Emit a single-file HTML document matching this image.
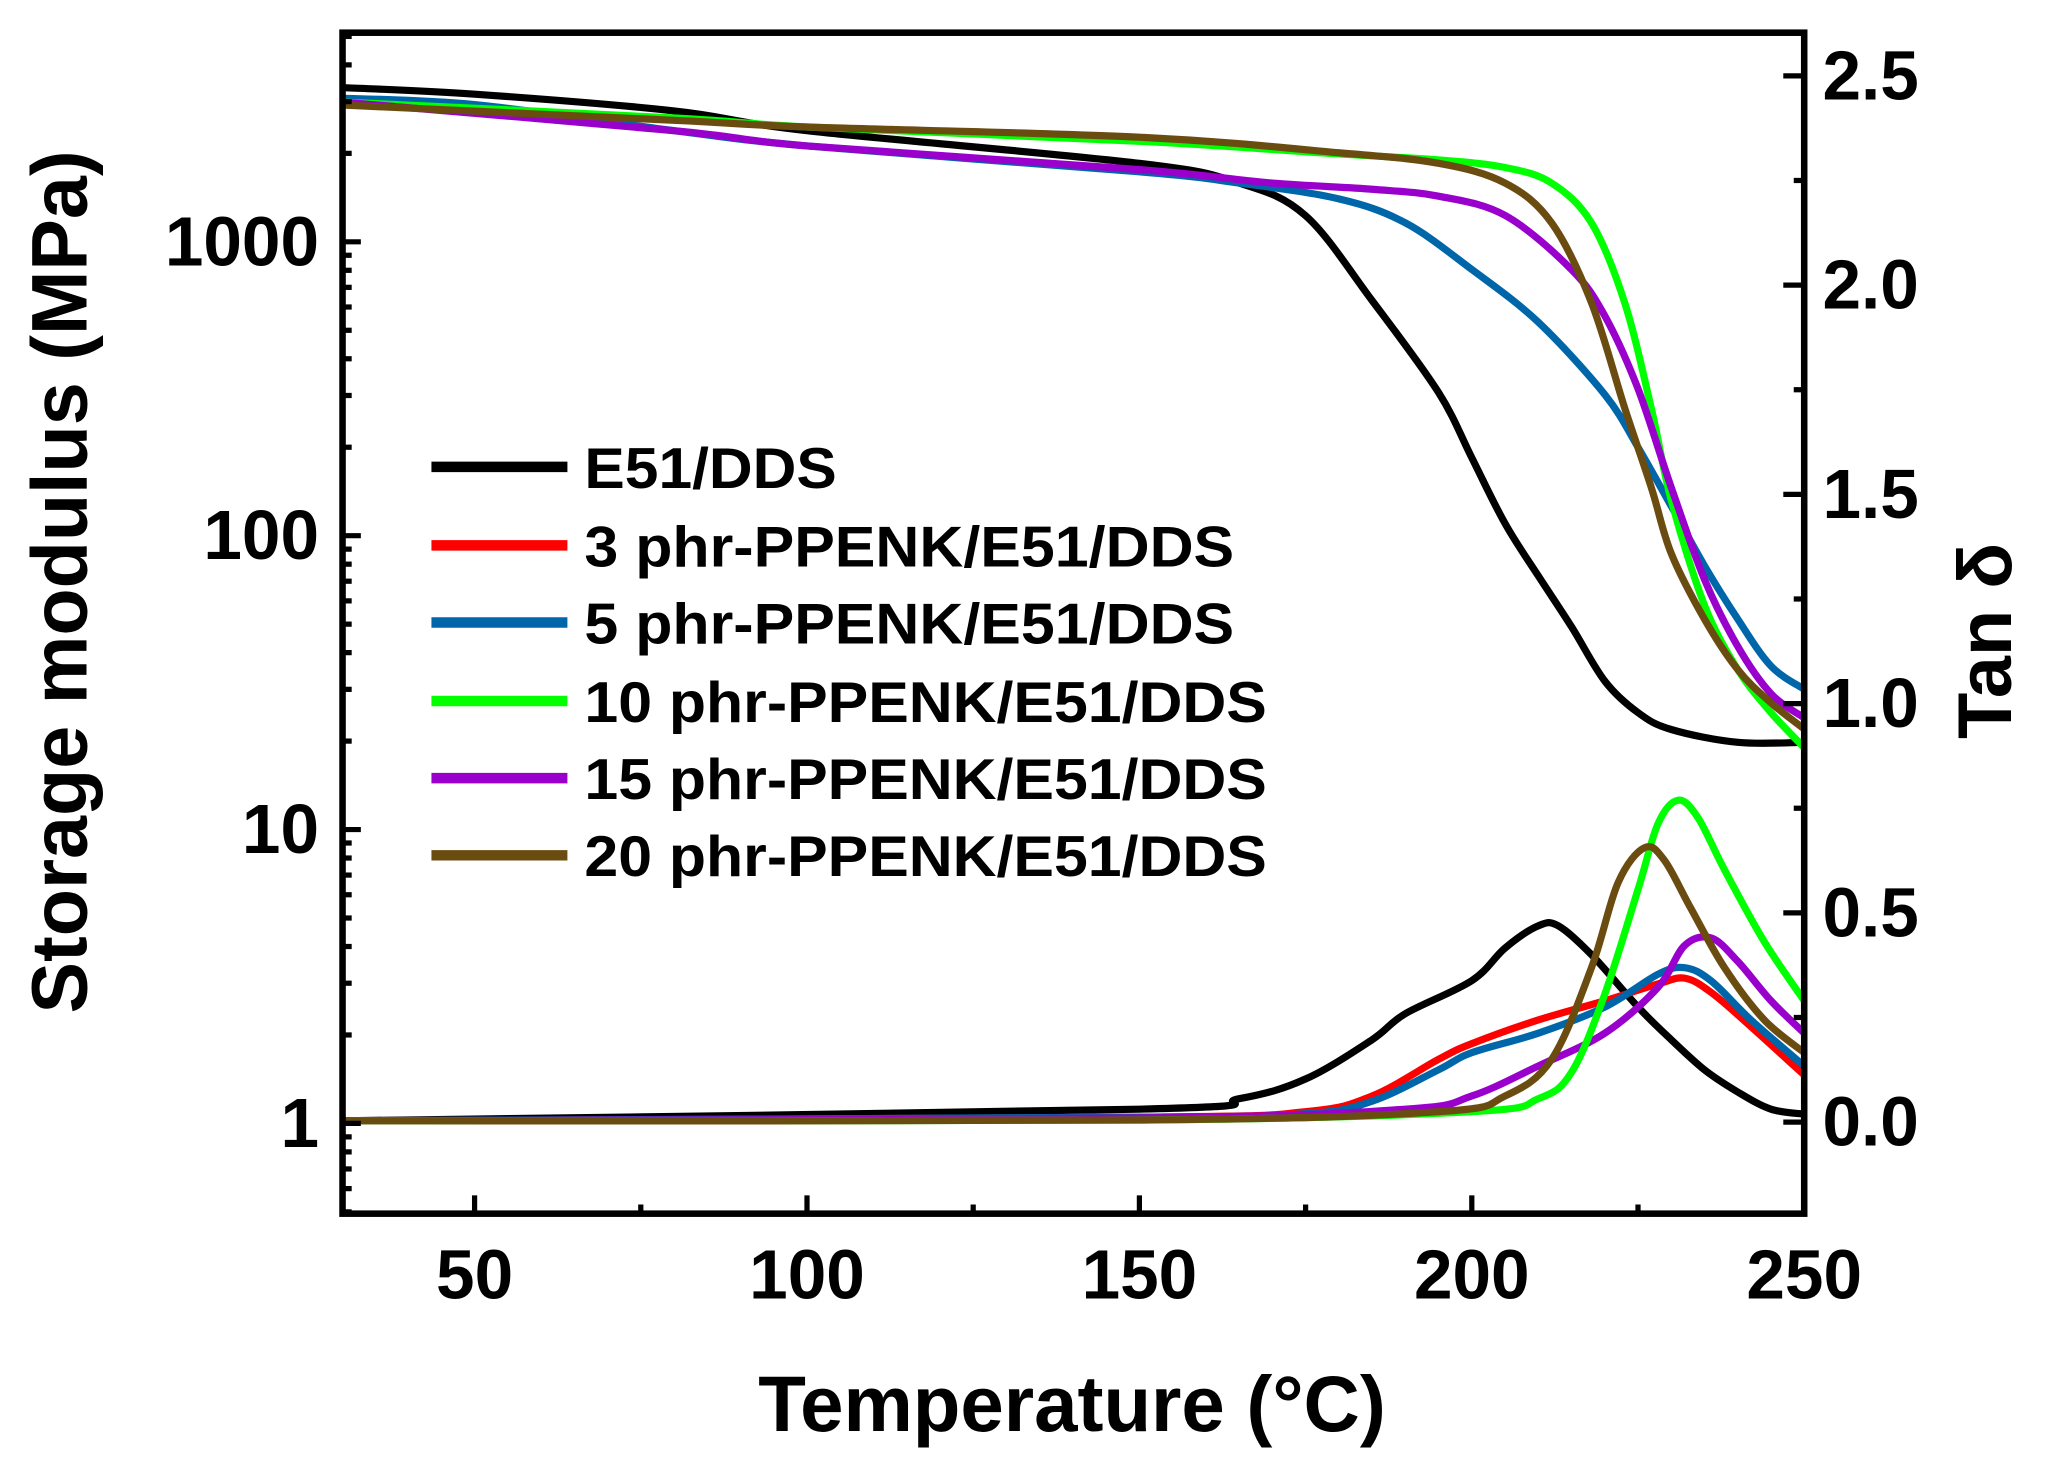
<!DOCTYPE html>
<html><head><meta charset="utf-8">
<style>
html,body{margin:0;padding:0;background:#fff;}
svg{display:block;}
text{font-family:"Liberation Sans",Arial,sans-serif;font-weight:bold;fill:#000;}
</style></head>
<body>
<svg id="chart" width="2050" height="1470" viewBox="0 0 1568 1124" preserveAspectRatio="none" xmlns="http://www.w3.org/2000/svg">
<rect x="0" y="0" width="1568" height="1124" fill="#fff"/>
<g id="curves"></g>
<g id="axes"></g>
<g id="legend"></g>
</svg>
<script>
// ---- data ----
const xTicks = [50, 100, 150, 200, 250];
const leftTicks = [1, 10, 100, 1000];
const leftTickLabels = ["1", "10", "100", "1000"];
const rightTicks = [0, 0.5, 1.0, 1.5, 2.0, 2.5];
const rightTickLabels = ["0.0", "0.5", "1.0", "1.5", "2.0", "2.5"];
const seriesNames = ["E51/DDS", "3 phr-PPENK/E51/DDS", "5 phr-PPENK/E51/DDS", "10 phr-PPENK/E51/DDS", "15 phr-PPENK/E51/DDS", "20 phr-PPENK/E51/DDS"];
const seriesColors = ["#000000", "#ff0000", "#0066aa", "#00ff00", "#9900cc", "#6b4c10"];

// storage modulus (MPa)
const modT_black = [30, 50, 80, 100, 150, 165, 175, 185, 195, 200, 205, 210, 215, 220, 225, 230, 240, 250];
const mod_black = [3350, 3180, 2790, 2390, 1850, 1585, 1227, 631, 307, 184, 110, 73, 49, 32, 25, 21.9, 19.8, 19.8];
const modT_blue = [30, 50, 80, 100, 150, 165, 180, 190, 200, 210, 220, 225, 230, 235, 240, 245, 250];
const mod_blue = [3080, 2930, 2390, 2120, 1730, 1585, 1400, 1160, 805, 533, 302, 200, 126, 79, 52, 36, 30];
const modT_purple = [30, 80, 100, 150, 170, 185, 195, 205, 215, 220, 225, 230, 235, 240, 245, 250];
const mod_purple = [2990, 2390, 2120, 1760, 1585, 1510, 1430, 1230, 805, 560, 316, 146, 71, 42, 29, 24];
const modT_green = [30, 80, 100, 150, 180, 195, 205, 212, 218, 223, 227, 230, 235, 240, 245, 250];
const mod_green = [2990, 2640, 2460, 2200, 1990, 1900, 1790, 1585, 1160, 620, 272, 132, 58, 35, 25, 19];
const modT_brown = [30, 80, 100, 150, 180, 195, 205, 212, 218, 223, 227, 230, 235, 240, 245, 250];
const mod_brown = [2920, 2590, 2460, 2270, 2010, 1850, 1585, 1160, 620, 272, 146, 87, 52, 35, 27, 22];

// tan delta
const tanT_black = [30, 150, 165, 175, 185, 190, 200, 205, 210, 213, 218, 225, 230, 235, 240, 245, 250];
const tan_black = [0.003, 0.031, 0.056, 0.103, 0.197, 0.259, 0.338, 0.416, 0.469, 0.469, 0.4, 0.275, 0.197, 0.125, 0.072, 0.031, 0.019];
const tanT_red = [30, 150, 175, 185, 195, 200, 210, 220, 228, 232, 236, 242, 250];
const tan_red = [0.003, 0.012, 0.025, 0.0625, 0.15, 0.1875, 0.244, 0.29, 0.33, 0.344, 0.31, 0.228, 0.1125];
const tanT_blue = [30, 150, 175, 185, 195, 200, 210, 220, 228, 232, 236, 242, 250];
const tan_blue = [0.003, 0.012, 0.02, 0.05, 0.125, 0.166, 0.2125, 0.275, 0.353, 0.369, 0.3375, 0.244, 0.134];
const tanT_green = [30, 150, 200, 210, 215, 220, 225, 228, 231, 234, 238, 244, 250];
const tan_green = [0.003, 0.005, 0.025, 0.056, 0.119, 0.306, 0.556, 0.7125, 0.769, 0.728, 0.603, 0.431, 0.29];
const tanT_purple = [30, 150, 190, 200, 210, 220, 228, 232, 236, 240, 245, 250];
const tan_purple = [0.003, 0.01, 0.031, 0.0625, 0.134, 0.2125, 0.322, 0.422, 0.44, 0.384, 0.29, 0.2125];
const tanT_brown = [30, 150, 195, 205, 212, 218, 222, 226, 229, 233, 238, 244, 250];
const tan_brown = [0.003, 0.005, 0.025, 0.0625, 0.15, 0.369, 0.572, 0.656, 0.625, 0.509, 0.369, 0.244, 0.166];

// ---- layout ----
const L = 262, R = 1380, T = 25, B = 928;
const NS = "http://www.w3.org/2000/svg";
function xScale(t){ return 363 + (t - 50) * (1380 - 363) / 200; }
function yLeft(v){ return 859 - Math.log10(v) * 224.7; }
function yRight(v){ return 858 - v * 320; }
function mk(tag, attrs, parent){
  const e = document.createElementNS(NS, tag);
  for (const k in attrs) e.setAttribute(k, attrs[k]);
  parent.appendChild(e); return e;
}
function pathD(xs, ys){
  const p = xs.map((x,i)=>[x, ys[i]]);
  let d = "M" + p[0][0].toFixed(1) + "," + p[0][1].toFixed(1);
  for (let i=0;i<p.length-1;i++){
    const p0 = p[Math.max(i-1,0)], p1 = p[i], p2 = p[i+1], p3 = p[Math.min(i+2,p.length-1)];
    const c1x = p1[0] + (p2[0]-p0[0])/6, c1y = p1[1] + (p2[1]-p0[1])/6;
    const c2x = p2[0] - (p3[0]-p1[0])/6, c2y = p2[1] - (p3[1]-p1[1])/6;
    d += " C" + c1x.toFixed(1)+","+c1y.toFixed(1)+" "+c2x.toFixed(1)+","+c2y.toFixed(1)+" "+p2[0].toFixed(1)+","+p2[1].toFixed(1);
  }
  return d;
}
const curves = document.getElementById("curves");
const clip = mk("clipPath", {id:"pc"}, curves);
mk("rect", {x:L, y:T, width:R-L, height:B-T}, clip);
const cg = mk("g", {"clip-path":"url(#pc)"}, curves);

function drawMod(ts, vs, color, name){
  const el = mk("path", {d: pathD(ts.map(xScale), vs.map(yLeft)), fill:"none", stroke:color, "stroke-width":5.5, "stroke-linejoin":"round"}, cg);
  
  
}
function drawTan(ts, vs, color, name){
  const el = mk("path", {d: pathD(ts.map(xScale), vs.map(yRight)), fill:"none", stroke:color, "stroke-width":5.5, "stroke-linejoin":"round"}, cg);
  
  
}
drawTan(tanT_black, tan_black, seriesColors[0], "tan-delta-e51-dds");
drawTan(tanT_red, tan_red, seriesColors[1], "tan-delta-3phr");
drawTan(tanT_blue, tan_blue, seriesColors[2], "tan-delta-5phr");
drawTan(tanT_purple, tan_purple, seriesColors[4], "tan-delta-15phr");
drawTan(tanT_green, tan_green, seriesColors[3], "tan-delta-10phr");
drawTan(tanT_brown, tan_brown, seriesColors[5], "tan-delta-20phr");
drawMod(modT_black, mod_black, seriesColors[0], "modulus-e51-dds");
drawMod(modT_blue, mod_blue, seriesColors[2], "modulus-5phr");
drawMod(modT_green, mod_green, seriesColors[3], "modulus-10phr");
drawMod(modT_purple, mod_purple, seriesColors[4], "modulus-15phr");
drawMod(modT_brown, mod_brown, seriesColors[5], "modulus-20phr");

// ---- axes ----
const ax = document.getElementById("axes");
const frame = mk("rect", {x:L, y:T, width:R-L, height:B-T, fill:"none", stroke:"#000", "stroke-width":5}, ax);


for (let t=50; t<=250; t+=25){
  const major = t % 50 === 0;
  const x = xScale(t);
  mk("line", {x1:x, x2:x, y1:B, y2:B-(major?14:7), stroke:"#000", "stroke-width":4}, ax);
}
xTicks.forEach((t,i)=>{
  const tx = mk("text", {x:xScale(t), y:993, "font-size":53, "text-anchor":"middle"}, ax);
  tx.textContent = String(t);
  
  
});
for (let e=-1; e<=3; e++){
  for (let m=1; m<=9; m++){
    const v = m*Math.pow(10,e);
    const y = yLeft(v);
    if (y < T || y > B) continue;
    mk("line", {x1:L, x2:L+(m===1?14:7), y1:y, y2:y, stroke:"#000", "stroke-width":4}, ax);
  }
}
leftTicks.forEach((v,i)=>{
  const tx = mk("text", {x:244, y:yLeft(v)+18, "font-size":53, "text-anchor":"end"}, ax);
  tx.textContent = leftTickLabels[i];
  
  
});
for (let v=-0.25; v<=2.6; v+=0.25){
  const y = yRight(v);
  if (y < T || y > B) continue;
  const major = Math.abs(v*2 - Math.round(v*2)) < 1e-6;
  mk("line", {x1:R, x2:R-(major?16:8), y1:y, y2:y, stroke:"#000", "stroke-width":4}, ax);
}
rightTicks.forEach((v,i)=>{
  const tx = mk("text", {x:1394, y:yRight(v)+18, "font-size":53, "text-anchor":"start"}, ax);
  tx.textContent = rightTickLabels[i];
  
  
});
</script>
<script>
(function(){
  const NS = "http://www.w3.org/2000/svg";
  const ax = document.getElementById("axes");
  function t(txt, attrs, name){
    const e = document.createElementNS(NS, "text");
    for (const k in attrs) e.setAttribute(k, attrs[k]);
    e.textContent = txt;
    
    
    ax.appendChild(e);
  }
  t("Temperature (°C)", {x:820, y:1094, "font-size":60, "text-anchor":"middle", textLength:480, lengthAdjust:"spacingAndGlyphs"}, "x-axis-title");
  t("Storage modulus (MPa)", {x:0, y:0, "font-size":60, "text-anchor":"middle", textLength:660, lengthAdjust:"spacingAndGlyphs", transform:"translate(66,445) rotate(-90)"}, "y-axis-title-left");
  t("Tan δ", {x:0, y:0, "font-size":58, "text-anchor":"middle", transform:"translate(1538,490) rotate(-90)"}, "y-axis-title-right");
  const lg = document.getElementById("legend");
  const rows = [357, 417, 476, 536, 595, 654];
  const widths = [193, 497, 497, 522, 522, 522];
  rows.forEach((y,i)=>{
    const g = document.createElementNS(NS, "g");
    
    
    lg.appendChild(g);
    const ln = document.createElementNS(NS, "line");
    ln.setAttribute("x1", 330); ln.setAttribute("x2", 434);
    ln.setAttribute("y1", y); ln.setAttribute("y2", y);
    ln.setAttribute("stroke", seriesColors[i]); ln.setAttribute("stroke-width", 8);
    g.appendChild(ln);
    const tx = document.createElementNS(NS, "text");
    tx.setAttribute("x", 447); tx.setAttribute("y", y+16);
    tx.setAttribute("font-size", 44);
    tx.setAttribute("textLength", widths[i]);
    tx.setAttribute("lengthAdjust", "spacingAndGlyphs");
    tx.textContent = seriesNames[i];
    g.appendChild(tx);
  });
})();
</script>
</body></html>
